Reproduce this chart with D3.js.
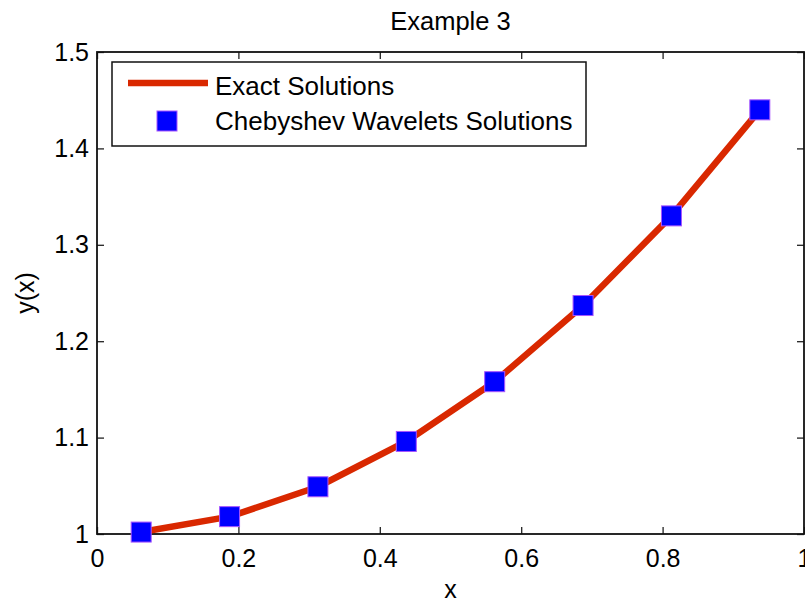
<!DOCTYPE html>
<html>
<head>
<meta charset="utf-8">
<script src="https://cdn.jsdelivr.net/npm/d3@7"></script>
<style>
  body { margin: 0; background: #fff; }
  svg text { font-family: "Liberation Sans", Arial, sans-serif; fill: #000; }
</style>
</head>
<body>
<div id="chart"></div>
<script>
// data
var xValues = [0.0625, 0.1875, 0.3125, 0.4375, 0.5625, 0.6875, 0.8125, 0.9375];
var exactValues = [1.002, 1.018, 1.049, 1.096, 1.158, 1.237, 1.330, 1.440];
var chebyValues = [1.002, 1.018, 1.049, 1.096, 1.158, 1.237, 1.330, 1.440];
var xTicks = [0, 0.2, 0.4, 0.6, 0.8, 1];
var yTicks = [1, 1.1, 1.2, 1.3, 1.4, 1.5];
var seriesNames = ["Exact Solutions", "Chebyshev Wavelets Solutions"];

var margin = { top: 52, right: 1, bottom: 69, left: 97 },
    width = 805 - margin.left - margin.right,
    height = 603 - margin.top - margin.bottom;

var svg = d3.select("#chart")
    .append("svg")
    .attr("width", 805)
    .attr("height", 603);

var g = svg.append("g")
    .attr("transform", "translate(" + margin.left + "," + margin.top + ")");

var xScale = d3.scaleLinear().domain([0, 1]).range([0, width]);
var yScale = d3.scaleLinear().domain([1, 1.5]).range([height, 0]);

var fmt = function (d) { return d3.format("~g")(d); };

// axes, ticks pointing inward like matlab
var xAxis = d3.axisBottom(xScale).tickValues(xTicks).tickFormat(fmt)
    .tickSizeInner(-7).tickSizeOuter(0).tickPadding(15);
var yAxis = d3.axisLeft(yScale).tickValues(yTicks).tickFormat(fmt)
    .tickSizeInner(-7).tickSizeOuter(0).tickPadding(8);

g.append("g").attr("transform", "translate(0," + height + ")").call(xAxis);
g.append("g").call(yAxis);

g.append("g").call(d3.axisTop(xScale).tickValues(xTicks).tickFormat("")
    .tickSizeInner(-7).tickSizeOuter(0));
g.append("g").attr("transform", "translate(" + width + ",0)")
    .call(d3.axisRight(yScale).tickValues(yTicks).tickFormat("")
    .tickSizeInner(-7).tickSizeOuter(0));

g.selectAll(".domain").remove();
g.selectAll(".tick line").attr("stroke", "#222").attr("stroke-width", 1.3);
g.selectAll(".tick text").attr("font-size", 25)
    .style("font-family", "'Liberation Sans', Arial, sans-serif");

// frame
g.append("rect")
    .attr("x", 0).attr("y", 0)
    .attr("width", width).attr("height", height)
    .attr("fill", "none")
    .attr("stroke", "#111")
    .attr("stroke-width", 1.8);

// exact solution line
var line = d3.line()
    .x(function (d, i) { return xScale(xValues[i]); })
    .y(function (d) { return yScale(d); });

g.append("path")
    .datum(exactValues)
    .attr("fill", "none")
    .attr("stroke", "#d92800")
    .attr("stroke-width", 6.5)
    .attr("stroke-linejoin", "round")
    .attr("d", line);

// wavelet markers
var ms = 20;
g.selectAll(".marker")
    .data(chebyValues)
    .enter().append("rect")
    .attr("class", "marker")
    .attr("x", function (d, i) { return xScale(xValues[i]) - ms / 2; })
    .attr("y", function (d) { return yScale(d) - ms / 2; })
    .attr("width", ms)
    .attr("height", ms)
    .attr("fill", "#0000ff")
    .attr("stroke", "#a855ff")
    .attr("stroke-width", 1);

// title and axis labels
svg.append("text")
    .attr("x", margin.left + width / 2).attr("y", 30)
    .attr("text-anchor", "middle")
    .attr("font-size", 25.5)
    .text("Example 3");

svg.append("text")
    .attr("x", margin.left + width / 2).attr("y", 598)
    .attr("text-anchor", "middle")
    .attr("font-size", 25)
    .text("x");

svg.append("text")
    .attr("transform", "translate(34," + (margin.top + height / 2) + ") rotate(-90)")
    .attr("text-anchor", "middle")
    .attr("font-size", 25)
    .text("y(x)");

// legend
var legend = svg.append("g");
legend.append("rect")
    .attr("x", 112).attr("y", 62)
    .attr("width", 474).attr("height", 84)
    .attr("fill", "#fff")
    .attr("stroke", "#111")
    .attr("stroke-width", 1.5);

legend.append("line")
    .attr("x1", 128).attr("x2", 208)
    .attr("y1", 83).attr("y2", 83)
    .attr("stroke", "#d92800")
    .attr("stroke-width", 6.5);

legend.append("rect")
    .attr("x", 157).attr("y", 111)
    .attr("width", ms).attr("height", ms)
    .attr("fill", "#0000ff")
    .attr("stroke", "#a855ff")
    .attr("stroke-width", 1);

legend.selectAll(".ltext")
    .data(seriesNames)
    .enter().append("text")
    .attr("x", 215)
    .attr("y", function (d, i) { return 95 + i * 34.5; })
    .attr("font-size", 26)
    .text(function (d) { return d; });
</script>
</body>
</html>
